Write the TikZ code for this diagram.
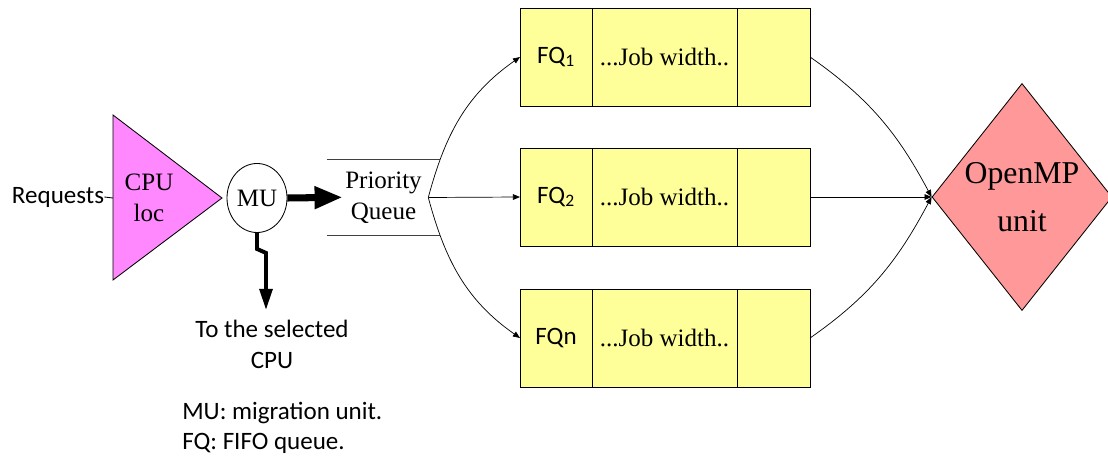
\documentclass[tikz,border=0pt]{standalone}
\usepackage{fontspec}
\setmainfont{Liberation Serif}
\newfontfamily\calib{Carlito}
\usepackage{xcolor}
\usepackage{tikz}
\usetikzlibrary{arrows.meta,positioning,shapes.geometric}

\definecolor{fqyellow}{HTML}{FFFF99}
\definecolor{cpupink}{HTML}{FF88FF}
\definecolor{ompred}{HTML}{FF9999}

\begin{document}
\begin{tikzpicture}[x=0.025cm, y=-0.025cm,
    txt/.style={font=\fontsize{17.8}{22}\selectfont, align=center, inner sep=0pt},
    stxt/.style={font=\calib\fontsize{17.8}{22}\selectfont, align=center, inner sep=0pt},
    cell/.style={draw, line width=0.6pt, fill=fqyellow, minimum height=2.45cm, inner sep=0pt, outer sep=0pt},
    thin/.style={-{Triangle[length=5pt,width=4pt]}, line width=0.5pt},
    fat/.style={-{Triangle[length=20pt,width=15pt]}, line width=5pt},
    sel/.style={-{Triangle[length=15pt,width=9pt]}, line width=2.8pt}
  ]
    \useasboundingbox (0,0) rectangle (1108,465);

    % input side
    \filldraw[fill=cpupink, line width=0.6pt] (113,115) coordinate (cputop)
      -- (222,198) coordinate (cpuapex) -- (113,280) -- cycle;
    \coordinate (cpuin) at (113,198);
    \node[txt] (cpu) at (149,198) {CPU\\loc};
    \node[stxt] (req) at (58,197) {Requests};
    \draw[line width=0.6pt] (req.east) -- (cpuin);

    \node[draw, ellipse, fill=white, line width=0.6pt, minimum width=1.5cm,
      minimum height=1.725cm, inner sep=0pt, font=\fontsize{17.8}{22}\selectfont] (mu) at (257,198) {MU};

    % priority queue
    \node[txt, minimum width=2.825cm, minimum height=1.875cm] (pq) at (383.5,197.5) {Priority\\Queue};
    \draw[black!75, line width=0.6pt] (pq.north west) -- (pq.north east);
    \draw[black!75, line width=0.6pt] (pq.south west) -- (pq.south east);
    \coordinate (fork) at ([xshift=-0.3cm]pq.east);
    \draw[fat, shorten >=-0.4cm] (mu.east) -- (pq.west);

    % migration to another cpu
    \coordinate (cputip) at (266,310);
    \node[stxt] (dest) at (272,344) {To the selected\\CPU};
    \draw[sel] (mu.south) -- ++(0,16) -- ++(9,4) -- (cputip);

    % fifo queues
    \node[cell, minimum width=1.8cm, font=\calib\fontsize{17.8}{22}\selectfont] (fqa) at (556,57) {FQ\textsubscript{1}};
    \node[cell, minimum width=3.625cm, right=0pt of fqa, txt] (joba) {...Job width..};
    \node[cell, minimum width=1.825cm, right=0pt of joba] (enda) {};

    \node[cell, minimum width=1.8cm, font=\calib\fontsize{17.8}{22}\selectfont] (fqb) at (556,197) {FQ\textsubscript{2}};
    \node[cell, minimum width=3.625cm, right=0pt of fqb, txt] (jobb) {...Job width..};
    \node[cell, minimum width=1.825cm, right=0pt of jobb] (endb) {};

    \node[cell, minimum width=1.8cm, font=\calib\fontsize{17.8}{22}\selectfont] (fqn) at (556,338) {FQn};
    \node[cell, minimum width=3.625cm, right=0pt of fqn, txt] (jobn) {...Job width..};
    \node[cell, minimum width=1.825cm, right=0pt of jobn] (endn) {};

    \draw[thin] (fork) to[out=75, in=215] (fqa.west);
    \draw[thin] (fork) -- (fqb.west);
    \draw[thin] (fork) to[out=-75, in=145] (fqn.west);

    % openmp unit
    \node[draw, diamond, fill=ompred, line width=0.6pt, aspect=0.79, inner sep=0pt,
      minimum width=4.5cm, minimum height=5.675cm,
      font=\fontsize{22.6}{34}\selectfont, align=center] (omp) at (1022,197) {OpenMP\\unit};

    \draw[thin] (enda.east) to[out=-35, in=118] (omp.west);
    \draw[thin] (endb.east) -- (omp.west);
    \draw[thin] (endn.east) to[out=35, in=242] (omp.west);

    % legend
    \node[stxt, align=left, anchor=west, font=\calib\fontsize{17.8}{21.3}\selectfont] (legend) at (182,428)
      {MU: migration unit.\\FQ: FIFO queue.};
  \end{tikzpicture}
\end{document}
